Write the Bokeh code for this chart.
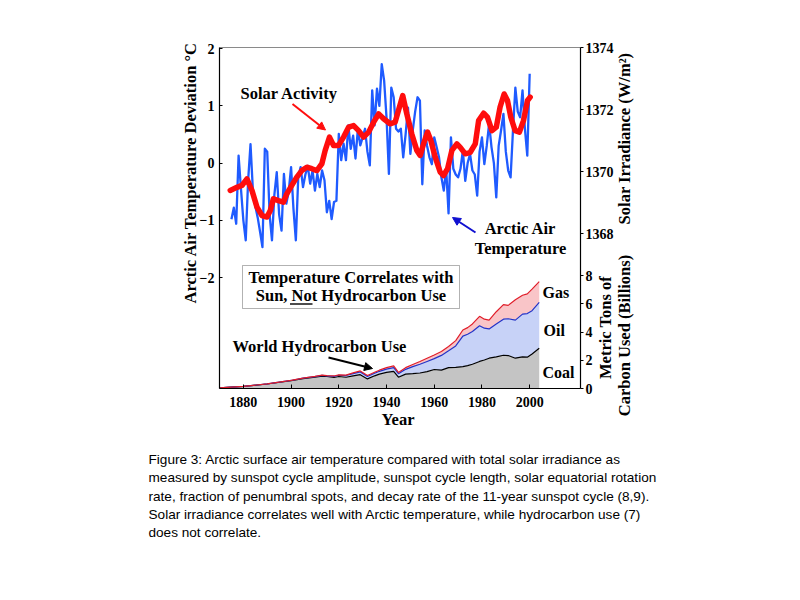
import numpy as np
from bokeh.plotting import figure
from bokeh.models import (Range1d, LinearAxis, FixedTicker, Label,
                          Arrow, NormalHead, BoxAnnotation, ColumnDataSource)
from bokeh.embed import file_html
from bokeh.resources import INLINE

# ---------------- data ----------------
temp_years = list(range(1875, 2001))
temp_values = [
    -0.98, -0.78, -1.06, 0.13, -0.45,
    -1.00, -1.35, -0.30, 0.33, -0.48, -0.75, -0.95, -1.20, -1.47, 0.25,
    0.20, -0.90, -1.35, -0.55, -0.16, -0.90, -1.18, -0.19, -0.71, -0.50,
    -0.07, -0.80, -1.35, -0.25, -0.07, -0.42, -0.20, -0.05, -0.36, -0.13,
    -0.48, -0.19, -0.42, -0.13, -0.30, -0.86, -0.66, -0.98, -0.68, -0.66,
    0.51, 0.05, 0.34, 0.05, 0.66, 0.25, 0.48, 0.08, 0.60, 0.31,
    0.45, 0.60, 0.20, -0.04, 1.27, 0.66, 1.30, 1.00, 1.73, 1.44,
    0.80, -0.19, 1.32, 1.15, 0.60, 0.55, 0.60, 0.10, 0.50, 0.97,
    0.16, 0.57, 0.90, 1.15, 1.09, -0.37, 0.57, 0.30, 0.10, -0.02,
    0.45, 0.28, 0.10, -0.25, -0.48, -0.10, -0.88, 0.45, -0.10, -0.20,
    -0.25, -0.10, 0.22, -0.31, 0.00, 0.16, -0.13, -0.20, -0.57, 0.20,
    0.45, -0.02, 0.30, 0.69, 0.28, 0.00, -0.60, 0.30, 0.57, 0.86,
    0.20, -0.13, -0.25, 0.57, 1.32, 0.90, 0.80, 1.27, 0.60, 0.13,
    1.56,
]

solar_years = [1874.5, 1877.3, 1879.4, 1881.5, 1883.6, 1885.7, 1887.8, 1889.9, 1891.3, 1892.6,
               1894.7, 1896.8, 1898.2, 1900.3, 1902.4, 1904.5, 1906.6, 1908.7, 1910.8, 1912.9,
               1914.3, 1916.1, 1917.8, 1919.9, 1922.0, 1924.1, 1926.2, 1928.3, 1930.4, 1932.5,
               1934.6, 1936.7, 1938.8, 1941.5, 1943.6, 1945.0, 1946.8, 1948.5, 1950.6, 1952.7,
               1954.1, 1955.5, 1957.2, 1958.6, 1960.4, 1962.5, 1963.9, 1965.6, 1967.4, 1969.5,
               1970.9, 1973.0, 1975.1, 1977.2, 1978.6, 1980.7, 1982.3, 1984.2, 1986.0, 1987.6,
               1989.3, 1990.7, 1992.1, 1993.9, 1995.7, 1997.4, 1999.1, 2000.2]
solar_values = [1369.39, 1369.49, 1369.55, 1369.76, 1369.39, 1368.85, 1368.58, 1368.53, 1368.74, 1369.12,
                1369.06, 1369.01, 1369.28, 1369.55, 1369.82, 1370.03, 1370.14, 1370.09, 1370.03, 1370.25,
                1370.68, 1371.11, 1370.84, 1370.84, 1371.11, 1371.43, 1371.48, 1371.32, 1371.11, 1371.27,
                1371.59, 1371.86, 1371.70, 1371.54, 1371.59, 1371.97, 1372.45, 1371.86, 1371.21, 1370.68,
                1370.52, 1370.89, 1371.27, 1371.00, 1370.46, 1369.98, 1369.87, 1370.09, 1370.68, 1370.89,
                1370.78, 1370.57, 1370.62, 1370.89, 1371.64, 1371.88, 1371.75, 1371.32, 1371.43, 1372.08,
                1372.50, 1372.29, 1371.75, 1371.32, 1371.27, 1371.64, 1372.29, 1372.40]

fuel_years = [1870, 1880, 1890, 1900, 1905, 1910, 1913, 1915, 1918, 1920,
              1923, 1926, 1929, 1932, 1935, 1937, 1940, 1943, 1945, 1948,
              1951, 1954, 1957, 1960, 1963, 1966, 1969, 1972, 1974, 1976,
              1979, 1981, 1983, 1986, 1989, 1991, 1994, 1997, 1999, 2001, 2004]
coal = [0.05, 0.15, 0.32, 0.55, 0.70, 0.80, 0.88, 0.85, 0.78, 0.85,
        0.80, 0.90, 0.98, 0.68, 0.90, 1.02, 1.14, 1.22, 0.80, 1.02,
        1.05, 1.10, 1.20, 1.35, 1.30, 1.48, 1.50, 1.55, 1.62, 1.72,
        1.92, 2.02, 2.15, 2.25, 2.36, 2.34, 2.15, 2.25, 2.22, 2.45, 2.85]
oil = [0.00, 0.00, 0.01, 0.02, 0.03, 0.04, 0.05, 0.05, 0.08, 0.09,
       0.12, 0.16, 0.20, 0.17, 0.18, 0.20, 0.24, 0.26, 0.25, 0.34,
       0.50, 0.62, 0.72, 0.77, 1.05, 1.20, 1.52, 2.17, 2.23, 2.33,
       2.53, 2.26, 2.08, 2.33, 2.56, 2.61, 2.70, 3.03, 3.10, 3.07, 3.27]
gas = [0.00, 0.00, 0.00, 0.01, 0.01, 0.02, 0.02, 0.02, 0.03, 0.03,
       0.03, 0.05, 0.07, 0.07, 0.07, 0.08, 0.10, 0.12, 0.09, 0.12,
       0.15, 0.20, 0.23, 0.26, 0.27, 0.30, 0.38, 0.43, 0.47, 0.53,
       0.67, 0.64, 0.62, 0.87, 1.03, 0.95, 1.45, 1.34, 1.40, 1.53, 1.46]

x_ticks = [1880, 1900, 1920, 1940, 1960, 1980, 2000]
temp_ticks = [-2, -1, 0, 1, 2]
solar_ticks = [1368, 1370, 1372, 1374]
carbon_ticks = [0, 2, 4, 6, 8]

caption_lines = [
    "Figure 3: Arctic surface air temperature compared with total solar irradiance as",
    "measured by sunspot cycle amplitude, sunspot cycle length, solar equatorial rotation",
    "rate, fraction of penumbral spots, and decay rate of the 11-year sunspot cycle (8,9).",
    "Solar irradiance correlates well with Arctic temperature, while hydrocarbon use (7)",
    "does not correlate.",
]

# ---------------- geometry ----------------
X0, X1 = 1870.0, 2021.3          # box x extent (years)
T0, T1 = -3.94, 2.02             # box temperature extent
S0, S1 = 1363.0, 1374.0          # box solar extent
C0, C1 = 0.0, 24.2               # box carbon extent
BL, BR, BT, BB = 219, 580, 47, 388       # chart box, canvas pixels
W, H = 800, 600
MB_L, MB_R, MB_T, MB_B = 40, 40, 10, 50   # frame = canvas minus these borders
FL, FR, FT, FB = MB_L, W - MB_R, MB_T, H - MB_B
SERIF = "Liberation Serif"
SANS = "Liberation Sans"


def extend(lo, hi, near_lo_px, near_hi_px, span_px):
    k = (hi - lo) / span_px
    return lo - near_lo_px * k, hi + near_hi_px * k


XR = extend(X0, X1, BL - FL, FR - BR, BR - BL)
TR = extend(T0, T1, FB - BB, BT - FT, BB - BT)
SR = extend(S0, S1, FB - BB, BT - FT, BB - BT)
CR = extend(C0, C1, FB - BB, BT - FT, BB - BT)


def dx(px):
    return X0 + (px - BL) * (X1 - X0) / (BR - BL)


def dy(py):
    return T1 - (py - BT) * (T1 - T0) / (BB - BT)


def style_axis(ax):
    ax.axis_line_color = "black"
    ax.axis_line_width = 1.2
    ax.major_tick_line_color = "black"
    ax.minor_tick_line_color = None
    ax.major_label_text_font = SERIF
    ax.major_label_text_font_style = "bold"
    ax.major_label_text_font_size = "14px"
    ax.major_label_text_color = "black"


p = figure(width=W, height=H, x_range=Range1d(*XR), y_range=Range1d(*TR),
           output_backend="svg", toolbar_location=None,
           min_border_left=MB_L, min_border_right=MB_R,
           min_border_top=MB_T, min_border_bottom=MB_B)
p.extra_y_ranges = {"solar": Range1d(*SR), "carbon": Range1d(*CR)}
p.xgrid.grid_line_color = None
p.ygrid.grid_line_color = None
p.outline_line_color = None
p.background_fill_color = "white"
p.border_fill_color = "white"

# stacked hydrocarbon use
src = ColumnDataSource(dict(year=fuel_years, coal=coal, oil=oil, gas=gas))
p.varea_stack(["coal", "oil", "gas"], x="year", source=src, y_range_name="carbon",
              fill_color=["#c4c4c4", "#c7d2f7", "#f9c5c8"])
p.vline_stack(["coal", "oil", "gas"], x="year", source=src, y_range_name="carbon",
              line_color=["#000000", "#2233c8", "#e01e2a"], line_width=1.2)

# Arctic temperature and solar irradiance
p.line(temp_years, temp_values, line_color="#1f5bff", line_width=2.3, line_join="round")
p.line(solar_years, solar_values, y_range_name="solar", line_color="#ff0d0d",
       line_width=5.5, line_join="round", line_cap="round")

# bottom axis (years) on the box's lower edge
xa = p.xaxis[0]
xa.ticker = FixedTicker(ticks=x_ticks)
xa.fixed_location = T0
xa.bounds = (X0, X1)
style_axis(xa)
xa.major_tick_in = 4
xa.major_tick_out = 0
xa.major_label_standoff = 8

# left axis (temperature) on the box's left edge
ya = p.yaxis[0]
ya.ticker = FixedTicker(ticks=temp_ticks)
ya.fixed_location = X0
ya.bounds = (T0, T1)
style_axis(ya)
ya.major_tick_in = 3
ya.major_tick_out = 0
ya.major_label_standoff = 5

# right axis: solar irradiance and carbon ticks share the box's right edge
k = (S1 - S0) / (C1 - C0)
mapped = [S0 + (c - C0) * k for c in carbon_ticks]
overrides = {float(t): str(t) for t in solar_ticks}
overrides.update({m: str(c) for m, c in zip(mapped, carbon_ticks)})
ra = LinearAxis(y_range_name="solar", fixed_location=X1, bounds=(S0, S1),
                ticker=FixedTicker(ticks=[float(t) for t in solar_ticks] + mapped))
ra.major_label_overrides = overrides
style_axis(ra)
ra.major_tick_in = 0
ra.major_tick_out = 3
ra.major_label_standoff = 2
p.add_layout(ra, "right")

# top edge of the box
ta = LinearAxis(fixed_location=T1, bounds=(X0, X1), ticker=FixedTicker(ticks=[]))
ta.axis_line_color = "#8a8a8a"
ta.major_tick_line_color = None
ta.minor_tick_line_color = None
ta.major_label_text_font_size = "0px"
p.add_layout(ta, "above")


def lab(text, px, py, size="16.5px", align="left", angle=0.0, font=SERIF, style="bold"):
    p.add_layout(Label(x=dx(px), y=dy(py), text=text, text_font=font, text_font_style=style,
                       text_font_size=size, text_align=align, text_baseline="middle",
                       angle=angle, text_color="black"))


lab("Arctic Air Temperature Deviation \u00b0C", 190, 172, angle=np.pi / 2, align="center")
lab("Solar Irradiance (W/m\u00b2)", 624, 138, angle=np.pi / 2, align="center")
lab("Metric Tons of", 605, 327, angle=np.pi / 2, align="center")
lab("Carbon Used (Billions)", 624, 335, angle=np.pi / 2, align="center")
lab("Year", 397.5, 419, align="center")

lab("Solar Activity", 240, 92.5)
lab("Arctic Air", 520, 228, align="center")
lab("Temperature", 520, 247.5, align="center")
lab("World Hydrocarbon Use", 232, 346)
lab("Gas", 542, 292, size="16px")
lab("Oil", 543, 330, size="16px")
lab("Coal", 542, 372, size="16px")

# boxed statement
p.add_layout(BoxAnnotation(left=dx(242), right=dx(459), top=dy(265), bottom=dy(308),
                           fill_color="white", fill_alpha=1, line_color="black", line_width=1))
lab("Temperature Correlates with", 350.5, 276.5, align="center")
lab("Sun, Not Hydrocarbon Use", 350.5, 295, align="center")
p.add_layout(BoxAnnotation(left=dx(289.5), right=dx(312), top=dy(302.8), bottom=dy(304.2),
                           fill_color="black", fill_alpha=1, line_color=None))

# arrows
p.add_layout(Arrow(end=NormalHead(size=8, fill_color="#ff0d0d", line_color="#ff0d0d"),
                   x_start=dx(292), y_start=dy(103.5), x_end=dx(325), y_end=dy(129.5),
                   line_color="#ff0d0d", line_width=2))
p.add_layout(Arrow(end=NormalHead(size=8, fill_color="#1010d0", line_color="#1010d0"),
                   x_start=dx(475), y_start=dy(232), x_end=dx(452), y_end=dy(217),
                   line_color="#1010d0", line_width=2))
p.add_layout(Arrow(end=NormalHead(size=8, fill_color="black", line_color="black"),
                   x_start=dx(328), y_start=dy(357), x_end=dx(372), y_end=dy(368),
                   line_color="black", line_width=2))

# caption
for i, line in enumerate(caption_lines):
    lab(line, 148, 459 + i * 18.3, size="13.6px", font=SANS, style="normal")

open("out.html", "w", encoding="utf-8").write(file_html(p, INLINE))
